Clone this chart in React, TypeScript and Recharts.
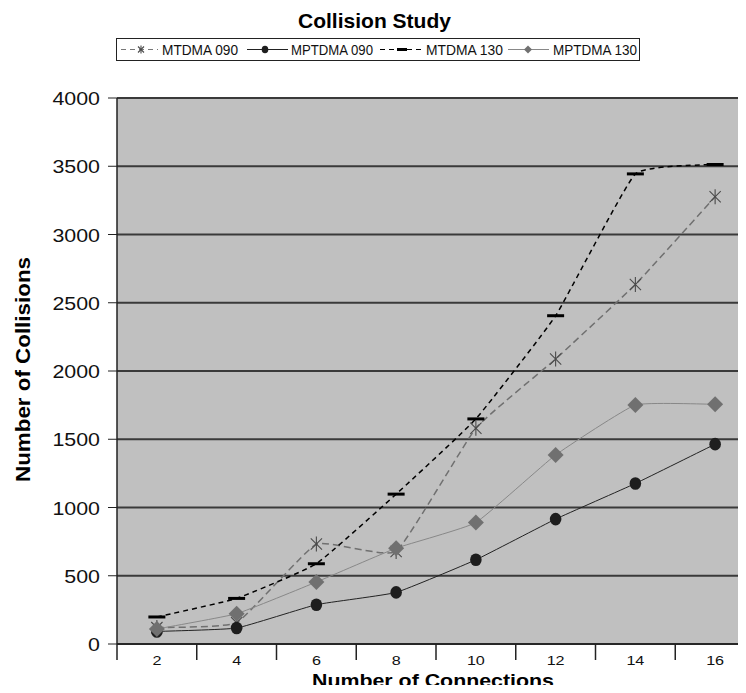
import { LineChart, Line, XAxis, YAxis, CartesianGrid, Label } from 'recharts';

// Collision study
const categories = ['2', '4', '6', '8', '10', '12', '14', '16'];
const mtdma090 = [120, 156, 732, 678, 1581, 2088, 2634, 3276];
const mptdma090 = [92, 117, 288, 378, 617, 915, 1176, 1464];
const mtdma130 = [198, 334, 588, 1098, 1649, 2405, 3444, 3513];
const mptdma130 = [110, 222, 454, 702, 890, 1385, 1751, 1756];
const yTicks = [0, 500, 1000, 1500, 2000, 2500, 3000, 3500, 4000];

const data = categories.map((c, i) => ({
  conn: c,
  mtdma090: mtdma090[i],
  mptdma090: mptdma090[i],
  mtdma130: mtdma130[i],
  mptdma130: mptdma130[i],
}));

const FONT = '"Liberation Sans", Arial, sans-serif';
const CHART_W = 755;
const CHART_H = 693;
const Y_AXIS_W = 117;
const BAND = (CHART_W - Y_AXIS_W) / categories.length;

// very mild Excel-like smoothing (cardinal spline, small tangent factor)
function smoothCurve(k: number) {
  return (context: any) => {
    let pts: number[][] = [];
    return {
      areaStart() {},
      areaEnd() {},
      lineStart() {
        pts = [];
      },
      point(x: number, y: number) {
        pts.push([+x, +y]);
      },
      lineEnd() {
        const n = pts.length;
        if (!n) return;
        context.moveTo(pts[0][0], pts[0][1]);
        for (let i = 0; i < n - 1; i++) {
          const p0 = pts[Math.max(i - 1, 0)];
          const p1 = pts[i];
          const p2 = pts[i + 1];
          const p3 = pts[Math.min(i + 2, n - 1)];
          context.bezierCurveTo(
            p1[0] + (p2[0] - p0[0]) * k,
            p1[1] + (p2[1] - p0[1]) * k,
            p2[0] - (p3[0] - p1[0]) * k,
            p2[1] - (p3[1] - p1[1]) * k,
            p2[0],
            p2[1]
          );
        }
      },
    };
  };
}
const CURVE = smoothCurve(0.06);

// markers
function Star({ cx, cy, size = 7.5, tone = '#4a4a4a' }: any) {
  if (cx == null || cy == null) return null;
  const d = size * 0.75;
  return (
    <g stroke={tone} strokeWidth={1.1} fill="none">
      <line x1={cx} y1={cy - size} x2={cx} y2={cy + size} />
      <line x1={cx - d} y1={cy - d} x2={cx + d} y2={cy + d} />
      <line x1={cx - d} y1={cy + d} x2={cx + d} y2={cy - d} />
    </g>
  );
}

function Dot({ cx, cy, size = 5.8, tone = '#1e1e1e' }: any) {
  if (cx == null || cy == null) return null;
  return <ellipse cx={cx} cy={cy} rx={size} ry={size + 0.5} fill={tone} stroke="none" />;
}

function Dash({ cx, cy, size = 17, tone = '#000' }: any) {
  if (cx == null || cy == null) return null;
  return <line x1={cx - size / 2} y1={cy} x2={cx + size / 2} y2={cy} stroke={tone} strokeWidth={3} />;
}

function Diamond({ cx, cy, size = 8, tone = '#707070' }: any) {
  if (cx == null || cy == null) return null;
  return (
    <path
      d={`M${cx} ${cy - size}L${cx + size} ${cy}L${cx} ${cy + size}L${cx - size} ${cy}Z`}
      fill={tone}
      stroke="none"
    />
  );
}

function XTick({ x, y, payload, index }: any) {
  const left = x - BAND / 2;
  const label = String(payload.value);
  return (
    <g>
      <line x1={left} y1={y} x2={left} y2={y + 16} stroke="#222" strokeWidth={1.5} />
      {index === categories.length - 1 && (
        <line x1={x + BAND / 2} y1={y} x2={x + BAND / 2} y2={y + 16} stroke="#222" strokeWidth={1.5} />
      )}
      <text
        x={x}
        y={y + 21}
        textAnchor="middle"
        fontSize={13.5}
        fontFamily={FONT}
        fill="#111"
        textLength={label.length * 9}
        lengthAdjust="spacingAndGlyphs"
      >
        {label}
      </text>
    </g>
  );
}

function YTick({ x, y, payload }: any) {
  const label = String(payload.value);
  return (
    <text
      x={x - 3}
      y={y + 7}
      textAnchor="end"
      fontSize={19}
      fontFamily={FONT}
      fill="#111"
      textLength={label.length * 11.9}
      lengthAdjust="spacingAndGlyphs"
    >
      {label}
    </text>
  );
}

function LegendText({ x, w, children }: any) {
  return (
    <text x={x} y={54.5} fontSize={14} fontFamily={FONT} fill="#111" textLength={w} lengthAdjust="spacingAndGlyphs">
      {children}
    </text>
  );
}

function ChartHeader() {
  return (
    <svg width={746} height={70} style={{ position: 'absolute', top: 0, left: 0 }}>
      <text
        x={374.5}
        y={27.5}
        textAnchor="middle"
        fontFamily={FONT}
        fontWeight="bold"
        fontSize={21}
        fill="#000"
        textLength={153}
        lengthAdjust="spacingAndGlyphs"
      >
        Collision Study
      </text>
      <rect x={116.5} y={38.5} width={523} height={22} fill="#fff" stroke="#222" strokeWidth={1} />
      {/* MTDMA 090 */}
      <line x1={121} y1={49.5} x2={158} y2={49.5} stroke="#777" strokeWidth={1.2} strokeDasharray="5 4" />
      <Star cx={141} cy={49.5} size={4} />
      <LegendText x={162} w={76}>MTDMA 090</LegendText>
      {/* MPTDMA 090 */}
      <line x1={247} y1={49.5} x2={288} y2={49.5} stroke="#222" strokeWidth={1} />
      <Dot cx={265} cy={49.5} size={3.3} />
      <LegendText x={291} w={82}>MPTDMA 090</LegendText>
      {/* MTDMA 130 */}
      <line x1={380} y1={49.5} x2={421} y2={49.5} stroke="#000" strokeWidth={1.2} strokeDasharray="5 4" />
      <Dash cx={402} cy={49.5} size={10} />
      <LegendText x={426} w={77}>MTDMA 130</LegendText>
      {/* MPTDMA 130 */}
      <line x1={508} y1={49.5} x2={549} y2={49.5} stroke="#888" strokeWidth={1} />
      <Diamond cx={528} cy={49.5} size={4} />
      <LegendText x={553} w={84}>MPTDMA 130</LegendText>
    </svg>
  );
}

export default function App() {
  return (
    <div style={{ margin: -8, width: 746, height: 693, overflow: 'hidden', position: 'relative', background: '#fff' }}>
      <LineChart
        width={CHART_W}
        height={CHART_H}
        data={data}
        margin={{ top: 98, right: 0, bottom: 0, left: 0 }}
        style={{ position: 'absolute', top: 0, left: 0 }}
      >
        <CartesianGrid vertical={false} fill="#c0c0c0" stroke="#3a3a3a" strokeWidth={2} />
        <XAxis
          dataKey="conn"
          height={49}
          padding={{ left: BAND / 2, right: BAND / 2 }}
          tickSize={0}
          tickMargin={0}
          tick={<XTick />}
          axisLine={{ stroke: '#222', strokeWidth: 1.5 }}
          tickLine={false}
          interval={0}
        >
          <Label
            content={() => (
              <text
                x={433}
                y={687}
                textAnchor="middle"
                fontFamily={FONT}
                fontWeight="bold"
                fontSize={18.5}
                fill="#000"
                textLength={242}
                lengthAdjust="spacingAndGlyphs"
              >
                Number of Connections
              </text>
            )}
          />
        </XAxis>
        <YAxis
          width={Y_AXIS_W}
          domain={[0, 4000]}
          ticks={yTicks}
          interval={0}
          tickSize={9}
          tickMargin={5}
          tick={<YTick />}
          tickLine={{ stroke: '#222' }}
          axisLine={{ stroke: '#222', strokeWidth: 1.5 }}
        >
          <Label
            content={() => (
              <text
                x={0}
                y={0}
                transform="translate(30, 369.5) rotate(-90)"
                textAnchor="middle"
                fontFamily={FONT}
                fontWeight="bold"
                fontSize={21}
                fill="#000"
                textLength={225}
                lengthAdjust="spacingAndGlyphs"
              >
                Number of Collisions
              </text>
            )}
          />
        </YAxis>
        <Line
          type={CURVE as any}
          dataKey="mtdma090"
          stroke="#707070"
          strokeWidth={1.5}
          strokeDasharray="7 4"
          dot={<Star />}
          activeDot={false}
          isAnimationActive={false}
        />
        <Line
          type={CURVE as any}
          dataKey="mptdma090"
          stroke="#222"
          strokeWidth={1}
          dot={<Dot />}
          activeDot={false}
          isAnimationActive={false}
        />
        <Line
          type={CURVE as any}
          dataKey="mtdma130"
          stroke="#000"
          strokeWidth={1.5}
          strokeDasharray="5 4"
          dot={<Dash />}
          activeDot={false}
          isAnimationActive={false}
        />
        <Line
          type={CURVE as any}
          dataKey="mptdma130"
          stroke="#888"
          strokeWidth={1}
          dot={<Diamond />}
          activeDot={false}
          isAnimationActive={false}
        />
      </LineChart>
      <ChartHeader />
    </div>
  );
}
